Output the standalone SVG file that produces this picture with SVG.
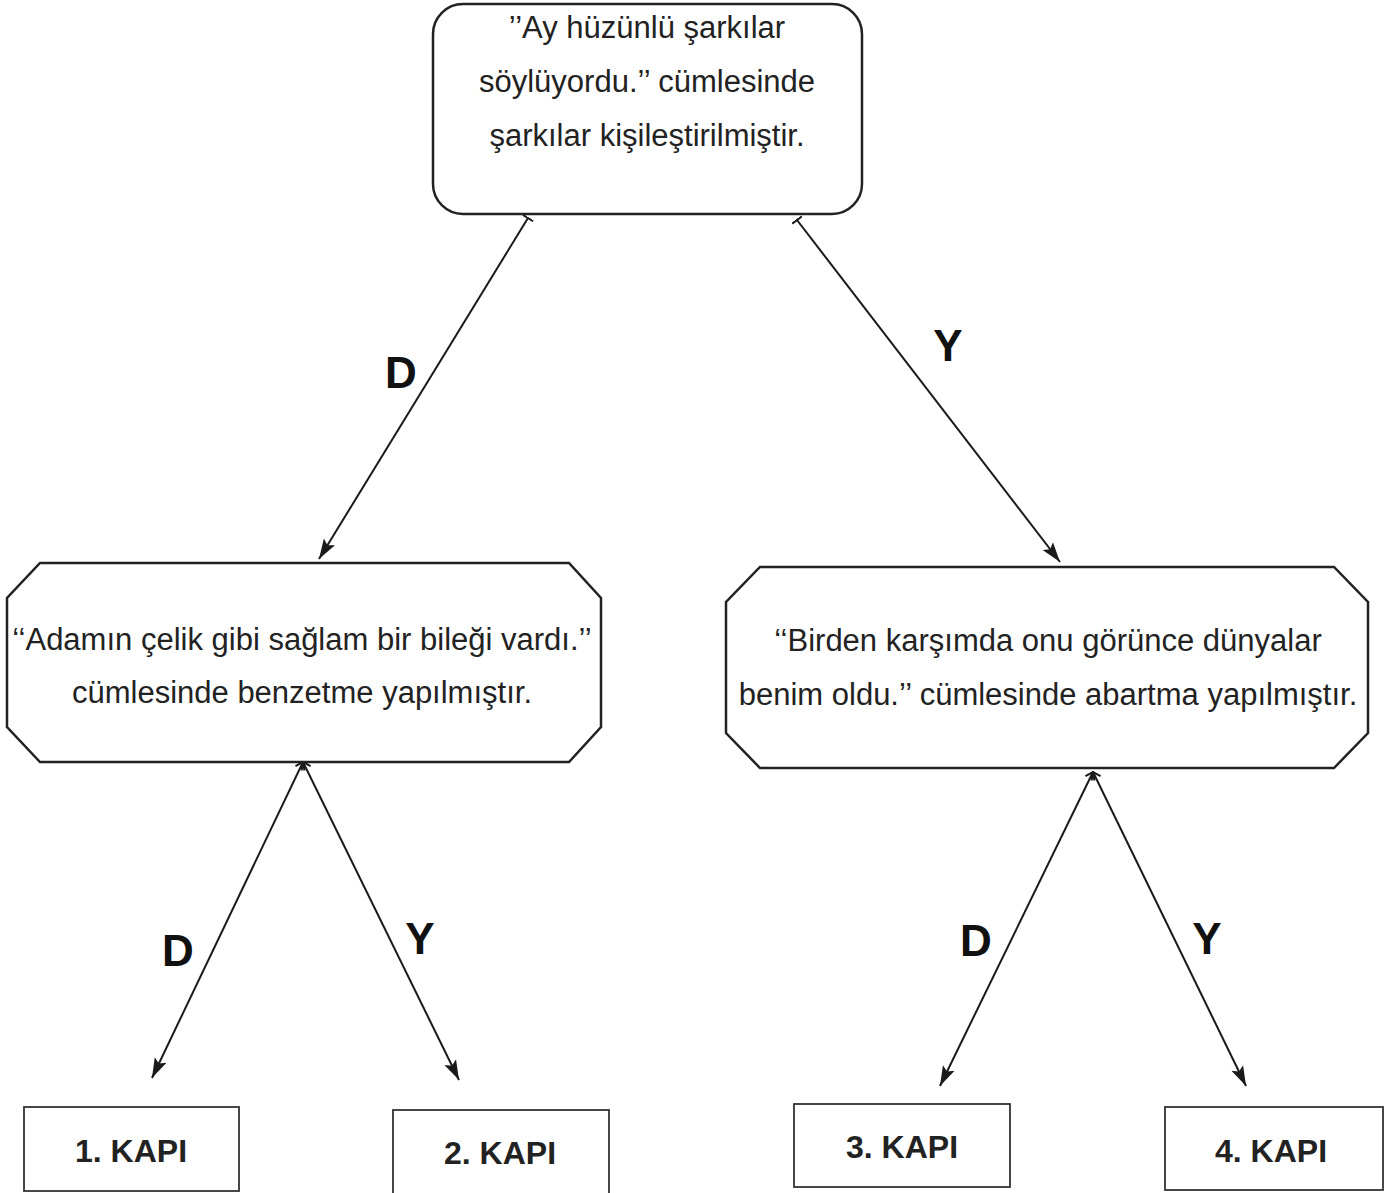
<svg xmlns="http://www.w3.org/2000/svg" width="1386" height="1193" viewBox="0 0 1386 1193">
<style>
.box{fill:#fff;stroke:#222;stroke-width:2.5}
.kbox{fill:#fff;stroke:#333;stroke-width:1.8}
.txt{font-family:"Liberation Sans",Arial,sans-serif;font-size:31px;fill:#222;text-anchor:middle}
.kapi{font-family:"Liberation Sans",Arial,sans-serif;font-size:32px;font-weight:bold;fill:#222;text-anchor:middle}
.lbl{font-family:"Liberation Sans",Arial,sans-serif;font-size:44px;font-weight:bold;fill:#111;text-anchor:middle}
.edge{stroke:#1a1a1a;stroke-width:2;fill:none;marker-end:url(#arr)}
.tee{marker-start:url(#tee)}
.open{marker-start:url(#opn)}
</style>
<defs>
<marker id="arr" markerUnits="userSpaceOnUse" markerWidth="22" markerHeight="16" refX="20" refY="8" orient="auto">
<path d="M0,1.5 L20,8 L0,14.5 L4,8 Z" fill="#1a1a1a"/>
</marker>
<marker id="tee" markerUnits="userSpaceOnUse" markerWidth="12" markerHeight="14" refX="1" refY="7" orient="auto">
<path d="M1,1 L1,13" stroke="#1a1a1a" stroke-width="2" fill="none"/>
</marker>
<marker id="opn" markerUnits="userSpaceOnUse" markerWidth="12" markerHeight="14" refX="1" refY="7" orient="auto">
<path d="M8,2 L1,7 L8,12" stroke="#1a1a1a" stroke-width="2" fill="none"/>
</marker>
</defs>
<g id="connectors">
<line class="edge tee" x1="528" y1="218" x2="319" y2="559"/>
<line class="edge tee" x1="797" y1="220" x2="1060" y2="562"/>
<line class="edge open" x1="303" y1="762" x2="152" y2="1078"/>
<line class="edge open" x1="303" y1="762" x2="459" y2="1080"/>
<line class="edge open" x1="1093" y1="772" x2="940" y2="1086"/>
<line class="edge open" x1="1093" y1="772" x2="1246" y2="1086"/>
<text class="lbl" x="401" y="388">D</text>
<text class="lbl" x="948" y="361">Y</text>
<text class="lbl" x="178" y="966">D</text>
<text class="lbl" x="420" y="954">Y</text>
<text class="lbl" x="976" y="956">D</text>
<text class="lbl" x="1207" y="954">Y</text>
</g>
<g id="n-top">
<rect class="box" x="433" y="4" width="429" height="210" rx="30" ry="30"/>
<text class="txt" x="647" y="38">’’Ay hüzünlü şarkılar</text>
<text class="txt" x="647" y="92">söylüyordu.’’ cümlesinde</text>
<text class="txt" x="647" y="146">şarkılar kişileştirilmiştir.</text>
</g>
<g id="n-left">
<polygon class="box" points="40,563 569,563 601,598 601,727 569,762 40,762 7,727 7,598"/>
<text class="txt" x="302" y="650">‘‘Adamın çelik gibi sağlam bir bileği vardı.’’</text>
<text class="txt" x="302" y="703">cümlesinde benzetme yapılmıştır.</text>
</g>
<g id="n-right">
<polygon class="box" points="760,567 1334,567 1368,602 1368,733 1334,768 760,768 726,733 726,602"/>
<text class="txt" x="1048" y="651">‘‘Birden karşımda onu görünce dünyalar</text>
<text class="txt" x="1048" y="705">benim oldu.’’ cümlesinde abartma yapılmıştır.</text>
</g>
<g id="n-k1">
<rect class="kbox" x="24" y="1107" width="215" height="84"/>
<text class="kapi" x="131" y="1162">1. KAPI</text>
</g>
<g id="n-k2">
<rect class="kbox" x="393" y="1110" width="216" height="86"/>
<text class="kapi" x="500" y="1164">2. KAPI</text>
</g>
<g id="n-k3">
<rect class="kbox" x="794" y="1104" width="216" height="83"/>
<text class="kapi" x="902" y="1158">3. KAPI</text>
</g>
<g id="n-k4">
<rect class="kbox" x="1165" y="1107" width="218" height="83"/>
<text class="kapi" x="1271" y="1162">4. KAPI</text>
</g>
</svg>
